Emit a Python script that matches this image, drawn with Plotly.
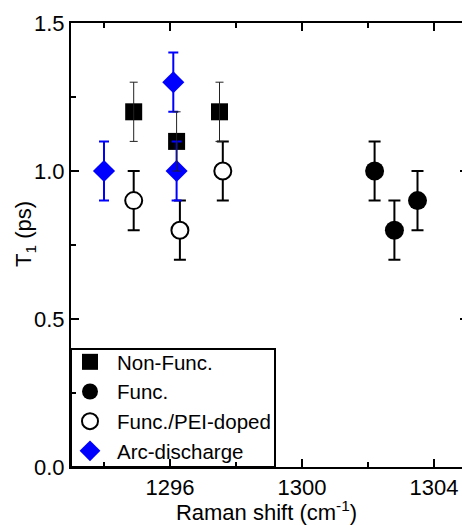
import plotly.graph_objects as go

# Phonon lifetime T1 versus Raman shift for four nanotube sample types
nonfunc_x = [1294.9, 1296.2, 1297.5]
nonfunc_y = [1.2, 1.1, 1.2]
nonfunc_err = [0.1, 0.1, 0.1]

func_x = [1302.2, 1302.8, 1303.5]
func_y = [1.0, 0.8, 0.9]
func_err = [0.1, 0.1, 0.1]

pei_x = [1294.9, 1296.3, 1297.6]
pei_y = [0.9, 0.8, 1.0]
pei_err = [0.1, 0.1, 0.1]

arc_x = [1294.0, 1296.1, 1296.2]
arc_y = [1.0, 1.3, 1.0]
arc_err = [0.1, 0.1, 0.1]

x_ticks = [1296, 1300, 1304]
y_ticks = [0.0, 0.5, 1.0, 1.5]

FONT = "Liberation Sans, Arial, sans-serif"
BLUE = "#0000FF"

fig = go.Figure()

# markers (legend entries)
fig.add_trace(go.Scatter(
    x=nonfunc_x, y=nonfunc_y, mode="markers", name="Non-Func.",
    marker=dict(symbol="square", size=17, color="black", line=dict(width=0)),
))
fig.add_trace(go.Scatter(
    x=func_x, y=func_y, mode="markers", name="Func.",
    marker=dict(symbol="circle", size=19, color="black", line=dict(width=0)),
))
fig.add_trace(go.Scatter(
    x=pei_x, y=pei_y, mode="markers", name="Func./PEI-doped",
    error_y=dict(type="data", array=pei_err, color="black", thickness=2, width=6),
    marker=dict(symbol="circle", size=17, color="white", line=dict(width=2, color="black")),
))
fig.add_trace(go.Scatter(
    x=arc_x, y=arc_y, mode="markers", name="Arc-discharge",
    marker=dict(symbol="diamond", size=17, color=BLUE, line=dict(width=0)),
))

# error bars drawn above the filled markers
for xs, ys, es, col, th, w in [
    (arc_x, arc_y, arc_err, BLUE, 2, 5),
    (nonfunc_x, nonfunc_y, nonfunc_err, "#222222", 1, 4),
    (func_x, func_y, func_err, "black", 2, 6),
]:
    fig.add_trace(go.Scatter(
        x=xs, y=ys, mode="markers", showlegend=False, hoverinfo="skip",
        marker=dict(size=0.1, color="rgba(0,0,0,0)"),
        error_y=dict(type="data", array=es, color=col, thickness=th, width=w),
    ))

# short right-hand ticks at the major y positions
fig.add_trace(go.Scatter(x=[None], y=[None], yaxis="y2", showlegend=False, hoverinfo="skip"))

axis_common = dict(
    showline=True, linecolor="black", linewidth=2,
    ticks="inside", ticklen=8, tickwidth=2, tickcolor="black",
    showgrid=False, zeroline=False,
    tickfont=dict(family=FONT, size=22, color="black"),
)

fig.update_layout(
    width=462, height=525,
    margin=dict(l=71, r=0, t=23, b=58),
    paper_bgcolor="white", plot_bgcolor="white",
    font=dict(family=FONT, size=22, color="black"),
    showlegend=True,
    legend=dict(
        x=-8 / 391, y=-4 / 444, xanchor="left", yanchor="bottom",
        bgcolor="rgba(0,0,0,0)", borderwidth=0,
        font=dict(family=FONT, size=20.5, color="black"),
        tracegroupgap=0, itemsizing="trace", itemwidth=44,
    ),
    xaxis=dict(
        **axis_common,
        range=[1293, 1293 + 391 / 33],
        tickvals=x_ticks,
        mirror="ticks",
        minor=dict(dtick=2, tick0=1294, ticks="inside", ticklen=5, tickwidth=2, tickcolor="black"),
        title=dict(text="Raman shift (cm<sup>-1</sup>)", font=dict(family=FONT, size=22), standoff=3),
    ),
    yaxis=dict(
        **axis_common,
        range=[0, 1.5],
        tickvals=y_ticks,
        tickformat=".1f",
        minor=dict(dtick=0.25, ticks="inside", ticklen=5, tickwidth=2, tickcolor="black"),
    ),
    yaxis2=dict(
        overlaying="y", side="right", anchor="x",
        range=[0, 1.5], tickvals=y_ticks,
        ticks="inside", ticklen=2, tickwidth=2, tickcolor="black",
        showticklabels=False, showline=False, showgrid=False, zeroline=False,
    ),
    # legend frame
    shapes=[dict(
        type="rect", xref="paper", yref="paper", layer="below",
        x0=0, x1=204 / 391, y0=0, y1=118 / 444,
        line=dict(color="black", width=2), fillcolor="white",
    )],
    annotations=[dict(
        text="T<sub>1</sub> (ps)",
        textangle=-90, xref="paper", yref="paper",
        x=-46 / 391, y=233 / 444, xanchor="center", yanchor="middle",
        showarrow=False, font=dict(family=FONT, size=22, color="black"),
    )],
)

fig.write_html("out.html")
